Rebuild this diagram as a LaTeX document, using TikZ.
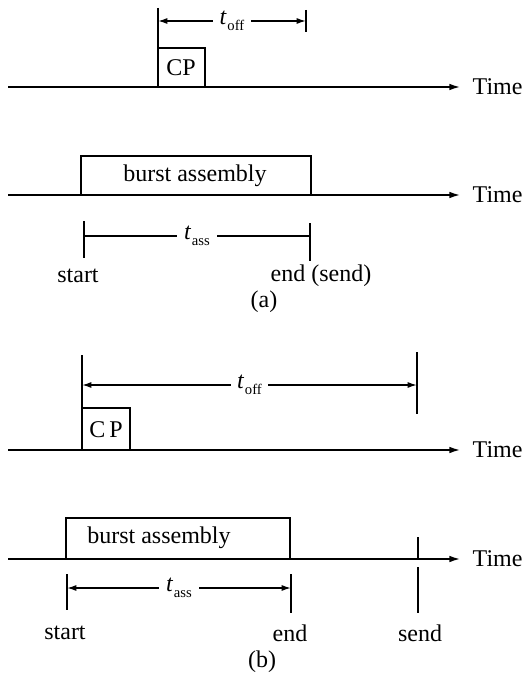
\documentclass[tikz,border=0pt]{standalone}
\usepackage{fontspec}
\setmainfont{Liberation Serif}
\usetikzlibrary{arrows.meta,positioning}

\newcommand{\tlab}[1]{\textit{t}\kern0.5pt\raisebox{-0.55ex}{\fontsize{11}{11}\selectfont #1}}

\begin{document}
\begin{tikzpicture}[x=0.75pt,y=-0.75pt,
  font=\fontsize{18}{20}\selectfont,
  txt/.style={inner sep=1pt},
  axis/.style={line width=1.1pt,-{Latex[length=8pt,width=5pt]}},
  boxline/.style={line width=2.2pt},
  tick/.style={line width=1.1pt},
  dimarrow/.style={line width=1.1pt,{Latex[length=7pt,width=4.5pt]}-{Latex[length=7pt,width=4.5pt]}},
  dimbar/.style={line width=1.1pt},
  lbl/.style={fill=white,inner xsep=5pt,inner ysep=1pt}]
  \useasboundingbox (0,0) rectangle (521,688);

  % ---- (a) ----
  \coordinate (axA1) at (8,87);   \coordinate (axA1e) at (460,87);
  \coordinate (axA2) at (8,195);  \coordinate (axA2e) at (460,195);
  \draw[axis] (axA1) -- (axA1e) node[txt, right=8pt] (timeA1) {Time};
  \draw[axis] (axA2) -- (axA2e) node[txt, right=8pt] (timeA2) {Time};

  % control packet and offset
  \coordinate (offAl) at (158,21); \coordinate (offAr) at (306,21);
  \draw[tick] (158,8) -- (158,87);
  \draw[tick] (306,10) -- (306,32);
  \draw[boxline] (158,48) -- (205,48) -- (205,87);
  \node[txt] (cpA) at (181,68) {CP};
  \draw[dimarrow] (offAl) -- (offAr) node[midway, lbl] (toffA) {\tlab{off}};

  % burst assembly
  \draw[boxline] (81,195) |- (311,156) -- (311,195);
  \node[txt] (burstA) at (195,176) {burst assembly};
  \coordinate (assAl) at (84,236); \coordinate (assAr) at (310,236);
  \draw[tick] (84,221) -- (84,258);
  \draw[tick] (310,223) -- (310,261);
  \draw[dimbar] (assAl) -- (assAr) node[midway, lbl] (tassA) {\tlab{ass}};
  \node[txt] (startA) at (78,276) {start};
  \node[txt] (endA) at (321,276) {end (send)};
  \node[txt] (capA) at (264,302) {(a)};

  % ---- (b) ----
  \coordinate (axB1) at (8,450);  \coordinate (axB1e) at (460,450);
  \coordinate (axB2) at (8,559);  \coordinate (axB2e) at (460,559);
  \draw[axis] (axB1) -- (axB1e) node[txt, right=8pt] (timeB1) {Time};
  \draw[axis] (axB2) -- (axB2e) node[txt, right=8pt] (timeB2) {Time};

  % control packet and offset
  \coordinate (offBl) at (82,385); \coordinate (offBr) at (417,385);
  \draw[tick] (82,355) -- (82,450);
  \draw[tick] (417,352) -- (417,414);
  \draw[boxline] (82,408) -- (130,408) -- (130,450);
  \node[txt] (cpB) at (106,430) {C\,P};
  \draw[dimarrow] (offBl) -- (offBr) node[midway, lbl] (toffB) {\tlab{off}};

  % burst assembly
  \draw[boxline] (66,559) |- (290,518) -- (290,559);
  \node[txt] (burstB) at (159,538) {burst assembly};
  \coordinate (assBl) at (67,588); \coordinate (assBr) at (291,588);
  \draw[tick] (67,574) -- (67,610);
  \draw[tick] (291,574) -- (291,613);
  \draw[tick] (418,537) -- (418,559);
  \draw[tick] (418,567) -- (418,613);
  \draw[dimarrow] (assBl) -- (assBr) node[midway, lbl] (tassB) {\tlab{ass}};
  \node[txt] (startB) at (65,633) {start};
  \node[txt] (endB) at (290,633) {end};
  \node[txt] (sendB) at (420,633) {send};
  \node[txt] (capB) at (262,662) {(b)};
\end{tikzpicture}
\end{document}
